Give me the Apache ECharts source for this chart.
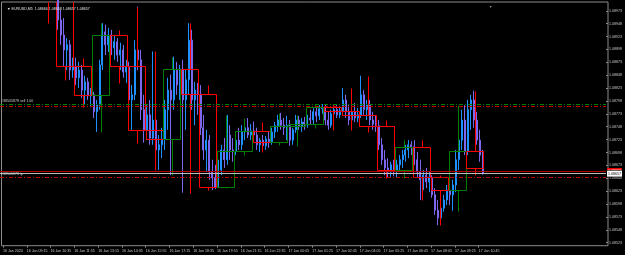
<!DOCTYPE html>
<html>
<head>
<meta charset="utf-8">
<script src="https://cdn.jsdelivr.net/npm/echarts@6/dist/echarts.min.js"></script>
<style>
html, body { margin: 0; padding: 0; background: #000; }
#chart { width: 625px; height: 255px; }
</style>
</head>
<body>
<div id="chart"></div>
<script>
// EURUSD M5 chart, candles resampled to 10 minute slots, with H1 boxes on top
var slotCount = 204;
var firstCandle = 19;

var opens = [1.09004,1.08955,1.08926,1.08897,1.08907,1.08858,1.08865,1.08843,1.08858,1.08819,1.08835,1.08808,1.08810,1.08777,1.08790,1.08868,1.08932,1.08907,1.08926,1.08901,1.08913,1.08887,1.08897,1.08854,1.08865,1.08800,1.08810,1.08897,1.08878,1.08781,1.08742,1.08771,1.08726,1.08761,1.08703,1.08713,1.08724,1.08781,1.08819,1.08800,1.08858,1.08829,1.08860,1.08800,1.08839,1.08916,1.08800,1.08819,1.08811,1.08746,1.08703,1.08722,1.08660,1.08649,1.08631,1.08664,1.08703,1.08684,1.08732,1.08703,1.08701,1.08722,1.08713,1.08738,1.08746,1.08732,1.08740,1.08732,1.08713,1.08722,1.08711,1.08724,1.08719,1.08738,1.08750,1.08761,1.08751,1.08746,1.08750,1.08722,1.08742,1.08761,1.08748,1.08757,1.08753,1.08765,1.08761,1.08777,1.08769,1.08783,1.08787,1.08761,1.08751,1.08773,1.08781,1.08771,1.08779,1.08800,1.08777,1.08761,1.08777,1.08765,1.08771,1.08810,1.08781,1.08790,1.08761,1.08753,1.08750,1.08713,1.08684,1.08668,1.08660,1.08674,1.08664,1.08674,1.08684,1.08693,1.08703,1.08713,1.08709,1.08684,1.08660,1.08645,1.08654,1.08641,1.08650,1.08616,1.08586,1.08571,1.08590,1.08606,1.08625,1.08616,1.08635,1.08684,1.08722,1.08761,1.08701,1.08781,1.08800,1.08761,1.08722,1.08693];
var closes = [1.08955,1.08926,1.08897,1.08907,1.08858,1.08865,1.08843,1.08858,1.08819,1.08835,1.08808,1.08810,1.08777,1.08790,1.08868,1.08932,1.08907,1.08926,1.08901,1.08913,1.08887,1.08897,1.08854,1.08865,1.08800,1.08810,1.08897,1.08878,1.08781,1.08742,1.08771,1.08726,1.08761,1.08703,1.08713,1.08724,1.08781,1.08819,1.08800,1.08858,1.08829,1.08860,1.08800,1.08839,1.08916,1.08800,1.08819,1.08811,1.08746,1.08703,1.08722,1.08660,1.08649,1.08631,1.08664,1.08703,1.08684,1.08732,1.08703,1.08701,1.08722,1.08713,1.08738,1.08746,1.08732,1.08740,1.08732,1.08713,1.08722,1.08711,1.08724,1.08719,1.08738,1.08750,1.08761,1.08751,1.08746,1.08750,1.08722,1.08742,1.08761,1.08748,1.08757,1.08753,1.08765,1.08761,1.08777,1.08769,1.08783,1.08787,1.08761,1.08751,1.08773,1.08781,1.08771,1.08779,1.08800,1.08777,1.08761,1.08777,1.08765,1.08771,1.08810,1.08781,1.08790,1.08761,1.08753,1.08750,1.08713,1.08684,1.08668,1.08660,1.08674,1.08664,1.08674,1.08684,1.08693,1.08703,1.08713,1.08709,1.08684,1.08660,1.08645,1.08654,1.08641,1.08650,1.08616,1.08586,1.08571,1.08590,1.08606,1.08625,1.08616,1.08635,1.08684,1.08722,1.08761,1.08701,1.08781,1.08800,1.08761,1.08722,1.08693,1.08657];
var lows = [1.08936,1.08907,1.08866,1.08858,1.08839,1.08843,1.08829,1.08823,1.08804,1.08792,1.08800,1.08786,1.08765,1.08738,1.08781,1.08858,1.08887,1.08893,1.08887,1.08878,1.08874,1.08858,1.08843,1.08833,1.08781,1.08742,1.08800,1.08858,1.08761,1.08717,1.08722,1.08713,1.08713,1.08684,1.08664,1.08687,1.08703,1.08742,1.08654,1.08781,1.08810,1.08800,1.08620,1.08742,1.08810,1.08781,1.08751,1.08771,1.08732,1.08684,1.08660,1.08645,1.08625,1.08627,1.08629,1.08654,1.08668,1.08674,1.08684,1.08680,1.08693,1.08703,1.08703,1.08722,1.08726,1.08722,1.08722,1.08703,1.08699,1.08703,1.08703,1.08707,1.08713,1.08726,1.08738,1.08742,1.08732,1.08722,1.08711,1.08713,1.08736,1.08742,1.08738,1.08742,1.08746,1.08751,1.08753,1.08757,1.08761,1.08773,1.08751,1.08742,1.08746,1.08761,1.08765,1.08765,1.08771,1.08765,1.08751,1.08742,1.08757,1.08757,1.08765,1.08771,1.08761,1.08751,1.08742,1.08738,1.08703,1.08674,1.08654,1.08649,1.08651,1.08652,1.08649,1.08660,1.08668,1.08680,1.08687,1.08693,1.08674,1.08649,1.08606,1.08625,1.08629,1.08621,1.08610,1.08577,1.08557,1.08563,1.08583,1.08596,1.08596,1.08585,1.08621,1.08664,1.08703,1.08693,1.08693,1.08742,1.08746,1.08713,1.08680,1.08655];
var highs = [1.09017,1.08975,1.08959,1.08920,1.08916,1.08882,1.08882,1.08874,1.08868,1.08847,1.08843,1.08823,1.08816,1.08800,1.08878,1.08949,1.08946,1.08940,1.08936,1.08924,1.08920,1.08911,1.08907,1.08878,1.08874,1.08829,1.08916,1.08981,1.08897,1.08810,1.08790,1.08800,1.08894,1.08781,1.08732,1.08746,1.08800,1.08843,1.08849,1.08884,1.08874,1.08868,1.08878,1.08858,1.08949,1.08936,1.08835,1.08833,1.08829,1.08771,1.08742,1.08732,1.08684,1.08674,1.08684,1.08713,1.08726,1.08771,1.08751,1.08726,1.08732,1.08746,1.08751,1.08761,1.08765,1.08753,1.08758,1.08746,1.08726,1.08732,1.08730,1.08738,1.08746,1.08757,1.08771,1.08775,1.08765,1.08769,1.08761,1.08746,1.08771,1.08769,1.08765,1.08767,1.08771,1.08781,1.08784,1.08788,1.08790,1.08792,1.08792,1.08777,1.08781,1.08788,1.08792,1.08788,1.08823,1.08810,1.08790,1.08784,1.08794,1.08784,1.08847,1.08819,1.08800,1.08800,1.08777,1.08769,1.08761,1.08726,1.08703,1.08687,1.08680,1.08684,1.08684,1.08693,1.08703,1.08713,1.08722,1.08720,1.08722,1.08699,1.08684,1.08664,1.08668,1.08660,1.08654,1.08629,1.08606,1.08596,1.08616,1.08635,1.08635,1.08645,1.08703,1.08742,1.08781,1.08790,1.08800,1.08810,1.08818,1.08777,1.08742,1.08703];

// H1 boxes: first 10-minute slot of the hour, open, close, low, high
var boxStart = [13,19,25,31,37,43,49,55,61,67,73,79,85,91,97,103,109,115,121,127,133,139,145,151,157];
var boxOpen  = [1.09020,1.09004,1.08865,1.08810,1.08926,1.08865,1.08742,1.08724,1.08860,1.08811,1.08631,1.08701,1.08740,1.08719,1.08750,1.08753,1.08787,1.08779,1.08771,1.08750,1.08664,1.08709,1.08650,1.08625,1.08701];
var boxClose = [1.09000,1.08865,1.08810,1.08926,1.08865,1.08742,1.08724,1.08860,1.08811,1.08631,1.08701,1.08740,1.08719,1.08750,1.08753,1.08787,1.08779,1.08771,1.08750,1.08664,1.08709,1.08650,1.08625,1.08701,1.08667];
var boxLow   = [1.08949,1.08839,1.08786,1.08738,1.08833,1.08717,1.08664,1.08654,1.08620,1.08625,1.08629,1.08693,1.08699,1.08713,1.08711,1.08746,1.08742,1.08742,1.08738,1.08649,1.08649,1.08606,1.08557,1.08585,1.08655];
var boxHigh  = [1.09030,1.09017,1.08882,1.08949,1.08936,1.08981,1.08894,1.08884,1.08949,1.08829,1.08771,1.08765,1.08758,1.08775,1.08771,1.08792,1.08792,1.08823,1.08847,1.08761,1.08722,1.08722,1.08654,1.08790,1.08818];

var xLabels = ['16 Jan 2024','16 Jan 09:15','16 Jan 10:35','16 Jan 11:55','16 Jan 13:15','16 Jan 14:35','16 Jan 15:55','16 Jan 17:15','16 Jan 18:35','16 Jan 19:55','16 Jan 21:15','16 Jan 22:35','17 Jan 00:05','17 Jan 01:25','17 Jan 02:45','17 Jan 04:05','17 Jan 05:25','17 Jan 06:45','17 Jan 08:05','17 Jan 09:25','17 Jan 10:45'];

var entryPrice = 1.08792;
var stopPrice = 1.08787;
var askPrice = 1.08662;
var bidPrice = 1.08657;
var tpPrice = 1.08650;

var slots = [];
for (var s = 0; s < slotCount; s++) slots.push(String(s));

var candles = opens.map(function (o, k) {
    return [firstCandle + k, o, closes[k], lows[k], highs[k]];
});
var boxes = boxStart.map(function (st, k) {
    return [st, boxOpen[k], boxClose[k], boxLow[k], boxHigh[k]];
});

var FONT = 'Liberation Sans';
var TXT = '#c8c8c8';
var FS = 3.6;
var BULL = '#1e90ff';
var BEAR = '#7b68ee';

function labelAt(idx) {
    return idx % 8 === 0 && idx / 8 < xLabels.length;
}

function renderBox(params, api) {
    var cs = params.coordSys;
    var top0 = cs.y, bot0 = cs.y + cs.height;
    var st = api.value(0);
    var band = api.size([1, 0])[0];
    var left = Math.round(api.coord([st, api.value(1)])[0] - band / 2) + 0.5;
    var right = Math.round(left + band * 6) - 0.5;
    var cx = Math.round((left + right) / 2) + 0.5;
    var yo = api.coord([st, api.value(1)])[1];
    var yc = api.coord([st, api.value(2)])[1];
    var yl = api.coord([st, api.value(3)])[1];
    var yh = api.coord([st, api.value(4)])[1];
    var color = api.value(2) >= api.value(1) ? '#008000' : '#ff0000';
    var bt = Math.round(Math.min(yo, yc)) + 0.5;
    var bb = Math.round(Math.max(yo, yc)) + 0.5;
    var clamp = function (v) { return Math.max(top0, Math.min(bot0, v)); };
    var kids = [];
    function seg(x1, y1, x2, y2) {
        kids.push({ type: 'line', shape: { x1: x1, y1: y1, x2: x2, y2: y2 },
            style: { stroke: color, lineWidth: 1 } });
    }
    if (bt >= top0 && bt <= bot0) seg(left, bt, right, bt);
    if (bb >= top0 && bb <= bot0) seg(left, bb, right, bb);
    if (bb > top0) {
        seg(left, clamp(bt), left, clamp(bb));
        seg(right, clamp(bt), right, clamp(bb));
    }
    if (bt > top0) seg(cx, clamp(Math.round(yh) + 0.5), cx, bt);
    if (yl > top0) seg(cx, clamp(bb), cx, clamp(Math.round(yl) + 0.5));
    return { type: 'group', children: kids };
}

var chart = echarts.init(document.getElementById('chart'), null, { renderer: 'canvas' });

var option = {
    backgroundColor: '#000000',
    animation: false,
    textStyle: { fontFamily: FONT },
    title: [
        { text: '\u25BC EURUSD,M5  1.08666 1.08668 1.08657 1.08657', left: 2, top: 2,
          textStyle: { color: '#e6e6e6', fontSize: FS, fontWeight: 'normal', fontFamily: FONT } },
        { text: '\u25BC', left: 484, top: 1,
          textStyle: { color: '#9a9a9a', fontSize: 3.4, fontWeight: 'normal', fontFamily: FONT } }
    ],
    grid: [
        { left: 0, right: 17, top: 2, bottom: 12.3 },
        { left: 0, right: 17, top: 2, bottom: 9.3, show: true, borderColor: '#8c8c8c', borderWidth: 1, backgroundColor: 'transparent' }
    ],
    xAxis: [
        { type: 'category', gridIndex: 0, data: slots, boundaryGap: true, show: false },
        { type: 'category', gridIndex: 1, data: slots, boundaryGap: true,
          axisLine: { show: false },
          axisTick: { show: true, length: 2, alignWithLabel: true, interval: labelAt,
                      lineStyle: { color: '#8c8c8c', width: 1 } },
          axisLabel: { show: true, interval: labelAt, align: 'left', margin: 3,
                       color: TXT, fontSize: FS, fontFamily: FONT,
                       formatter: function (v, idx) { return labelAt(idx) ? xLabels[idx / 8] : ''; } },
          splitLine: { show: false } }
    ],
    yAxis: [
        { type: 'value', gridIndex: 0, position: 'right', min: 1.08523, max: 1.08990, interval: 0.00025,
          axisLine: { show: false },
          axisTick: { show: true, length: 2, lineStyle: { color: '#8c8c8c' } },
          axisLabel: { color: TXT, fontSize: FS, fontFamily: FONT, margin: 3, showMaxLabel: false,
                       formatter: function (v) { return v.toFixed(5); } },
          splitLine: { show: false } },
        { type: 'value', gridIndex: 1, show: false }
    ],
    series: [
        {
            type: 'candlestick', xAxisIndex: 0, yAxisIndex: 0,
            data: candles,
            encode: { x: 0, y: [1, 2, 3, 4] },
            barWidth: 1.5,
            clip: true,
            itemStyle: { color: BULL, color0: BEAR, borderColor: BULL, borderColor0: BEAR, borderColorDoji: BULL, borderWidth: 1 },
            emphasis: { disabled: true }
        },
        {
            type: 'custom', xAxisIndex: 0, yAxisIndex: 0,
            data: boxes,
            encode: { x: 0, y: [1, 2, 3, 4] },
            renderItem: renderBox,
            clip: true,
            silent: true,
            z: 3
        },
        {
            type: 'line', xAxisIndex: 0, yAxisIndex: 0, data: [], silent: true, z: 4,
            markLine: {
                silent: true, symbol: 'none', precision: 5, animation: false,
                data: [
                    { yAxis: entryPrice, lineStyle: { color: '#008000', width: 1, type: [4, 2, 1, 2] },
                      label: { show: true, position: 'insideStartTop', distance: 1, formatter: '#38505878 sell 1.00',
                               color: TXT, fontSize: FS, fontFamily: FONT } },
                    { yAxis: stopPrice, lineStyle: { color: '#c00000', width: 1, type: [4, 2, 1, 2] },
                      label: { show: false } },
                    { yAxis: tpPrice, lineStyle: { color: '#c00000', width: 1, type: [4, 2, 1, 2] },
                      label: { show: true, position: 'insideStartTop', distance: 1, formatter: '#38505878 tp',
                               color: TXT, fontSize: FS, fontFamily: FONT } },
                    { yAxis: askPrice, lineStyle: { color: '#b00000', width: 1, type: 'solid' },
                      label: { show: true, position: 'end', distance: 1, formatter: '1.08662',
                               color: '#ffffff', backgroundColor: '#ff0000', padding: [1, 1, 1, 1],
                               fontSize: FS, fontFamily: FONT } },
                    { yAxis: bidPrice, lineStyle: { color: '#bdbdbd', width: 1, type: 'solid' },
                      label: { show: true, position: 'end', distance: 1, formatter: '1.08657',
                               color: '#000000', backgroundColor: '#ffffff', borderColor: '#000', borderWidth: 0.5,
                               padding: [1, 1, 1, 1], fontSize: FS, fontFamily: FONT } }
                ]
            }
        }
    ]
};

chart.setOption(option);
</script>
</body>
</html>
